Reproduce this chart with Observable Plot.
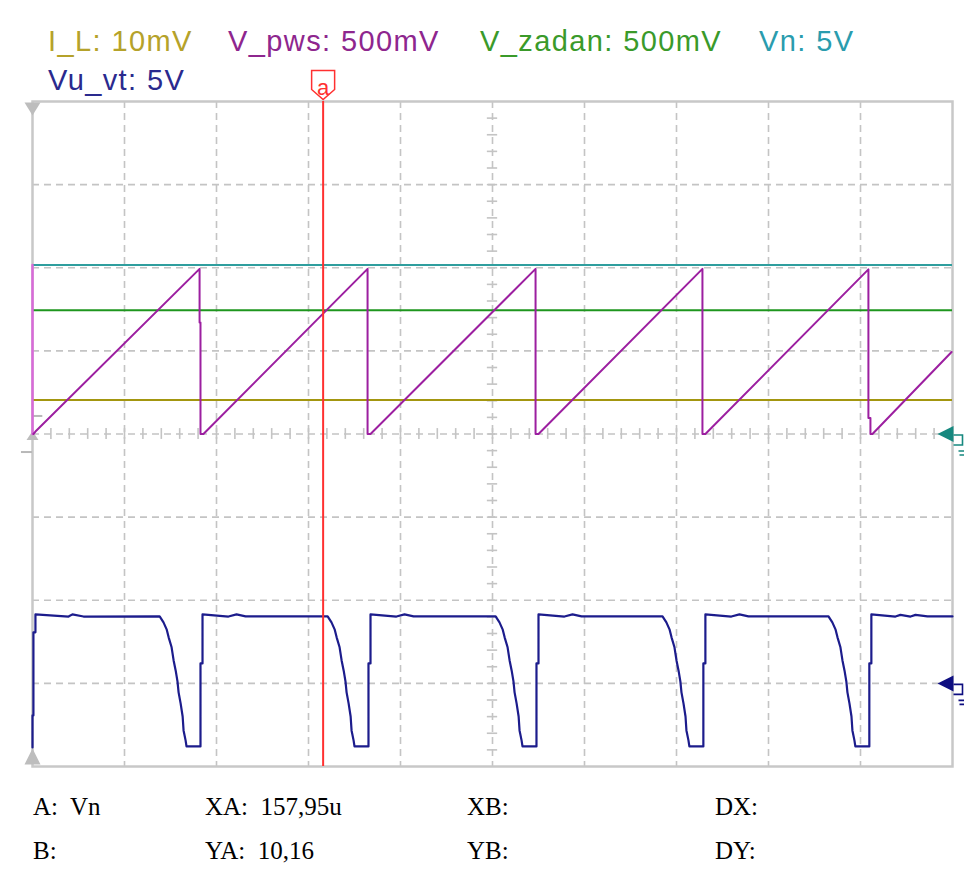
<!DOCTYPE html>
<html><head><meta charset="utf-8">
<script src="https://cdn.jsdelivr.net/npm/d3@7"></script>
<script src="https://cdn.jsdelivr.net/npm/@observablehq/plot@0.6"></script>
<style>
body{margin:0;background:#fff;}
#wrap{position:relative;width:964px;height:872px;overflow:hidden;background:#fff;}
#chart{position:absolute;left:0;top:0;}
.leg{position:absolute;font-family:"Liberation Sans",Arial,sans-serif;font-size:29px;line-height:1;white-space:pre;letter-spacing:1.4px;}
.cur{position:absolute;font-family:"Liberation Serif","Times New Roman",serif;font-size:25px;line-height:1;white-space:pre;color:#000;}
</style></head><body>
<div id="wrap"><div id="chart"></div></div>
<script>
// ---- channels ----
const channelNames = ["I_L", "V_pws", "V_zadan", "Vn", "Vu_vt"];
const channelScaleLabels = ["10mV", "500mV", "500mV", "5V", "5V"];
const channelVoltsPerDiv = [0.01, 0.5, 0.5, 5, 5];
const channelGroundDiv = [0, 0, 0, 0, -3];
const channelColors = ["#a3960f", "#9c1fa0", "#1e961e", "#2f9e9e", "#1c1c8c"];
const legendColors = ["#b5a22a", "#8e268e", "#3a9a2a", "#2a9cae", "#2a2a8e"];

// ---- constant levels (V) ----
const levelIL = 0.0041;
const levelVzadan = 0.745;
const levelVn = 10.16;

// ---- V_pws sawtooth (time in us, volts) ----
const pwsStartTimes = [0, 0];
const pwsStartVolts = [1.017, 0.0];
const pwsTimes = [0.5, 1.6, 90.8, 90.8, 91.3, 91.3, 92.9, 182.1, 182.1, 183.7, 273.4, 273.4, 275.0, 364.1, 364.1, 365.7, 454.3, 454.3, 455.4, 455.4, 456.5, 499.5];
const pwsVolts = [0.0, 0.015, 0.993, 0.67, 0.67, 0.0, 0.0, 0.993, 0.0, 0.0, 0.993, 0.0, 0.0, 0.993, 0.0, 0.0, 0.99, 0.096, 0.096, 0.0, 0.0, 0.493];

// ---- Vu_vt (time in us, volts) ----
const vuTimes = [0, 0, 0.5, 0.5, 1.6, 1.6, 19.6, 21.7, 27.7,
  69.1, 71.2, 72.9, 74.0, 75.6, 76.7, 77.8, 78.8, 79.4, 80.5, 81.6, 82.1, 83.2, 83.7, 91.3, 91.3, 92.4, 92.4, 106.5, 110.9, 115.8,
  160.4, 162.5, 164.2, 165.3, 166.9, 168.0, 169.1, 170.1, 170.7, 171.8, 172.9, 173.4, 174.5, 175.0, 182.6, 182.6, 183.7, 183.7, 197.8, 202.2, 207.1,
  251.7, 253.8, 255.5, 256.6, 258.2, 259.3, 260.4, 261.4, 262.0, 263.1, 264.2, 264.7, 265.8, 266.3, 273.9, 273.9, 275.0, 275.0, 289.1, 293.5, 298.4,
  342.4, 344.5, 346.2, 347.3, 348.9, 350.0, 351.1, 352.1, 352.7, 353.8, 354.9, 355.4, 356.5, 357.0, 364.6, 364.6, 365.7, 365.7, 379.8, 384.2, 389.1,
  432.6, 434.7, 436.4, 437.5, 439.1, 440.2, 441.3, 442.3, 442.9, 444.0, 445.1, 445.6, 446.7, 447.2, 454.8, 454.8, 455.9, 455.9, 469.0, 471.7, 477.2, 479.9, 486.4, 500];
const vuVolts = [-3.85, -1.93, -1.93, 3.07, 3.07, 4.15, 4.02, 4.15, 4.02,
  4.03, 3.67, 3.25, 2.77, 2.17, 1.38, 0.78, 0.12, -0.54, -1.20, -1.99, -2.83, -3.43, -3.79, -3.79, 1.20, 1.20, 4.15, 4.02, 4.15, 4.03,
  4.03, 3.67, 3.25, 2.77, 2.17, 1.38, 0.78, 0.12, -0.54, -1.20, -1.99, -2.83, -3.43, -3.79, -3.79, 1.20, 1.20, 4.15, 4.02, 4.15, 4.03,
  4.03, 3.67, 3.25, 2.77, 2.17, 1.38, 0.78, 0.12, -0.54, -1.20, -1.99, -2.83, -3.43, -3.79, -3.79, 1.20, 1.20, 4.15, 4.02, 4.15, 4.03,
  4.03, 3.67, 3.25, 2.77, 2.17, 1.38, 0.78, 0.12, -0.54, -1.20, -1.99, -2.83, -3.43, -3.79, -3.79, 1.20, 1.20, 4.15, 4.02, 4.15, 4.03,
  4.03, 3.67, 3.25, 2.77, 2.17, 1.38, 0.78, 0.12, -0.54, -1.20, -1.99, -2.83, -3.43, -3.79, -3.79, 1.20, 1.20, 4.15, 4.02, 4.12, 4.02, 4.12, 4.03, 4.03];

// ---- cursor & readouts ----
const cursorTime = 157.95;
const cursorLabel = "a";
const readoutCol1 = ["A:  Vn", "B:"];
const readoutCol2 = ["XA:  157,95u", "YA:  10,16"];
const readoutCol3 = ["XB:", "YB:"];
const readoutCol4 = ["DX:", "DY:"];

// ---- axes (50 us/div, 8 vertical divisions) ----
const xDomain = [0, 500];
const yDomain = [-4, 4];
const xMajor = d3.range(50, 500, 50);
const yMajor = d3.range(-3, 4, 1);
const xMinor = d3.range(10, 500, 10);
const yMinor = d3.range(-19, 20).map(i => i / 5);

const toDiv = (ch, v) => channelGroundDiv[ch] + v / channelVoltsPerDiv[ch];

const pwsStart = pwsStartTimes.map((t, i) => ({t, y: toDiv(1, pwsStartVolts[i])}));
const pws = pwsTimes.map((t, i) => ({t, y: toDiv(1, pwsVolts[i])}));
const vu = vuTimes.map((t, i) => ({t, y: toDiv(4, vuVolts[i])}));

// custom fixed-pixel symbols
const sym = f => ({draw(ctx) { f(ctx); }});
const triDown = sym(c => { c.moveTo(-8, 1); c.lineTo(8, 1); c.lineTo(0, 14); c.closePath(); });
const triUpBottom = sym(c => { c.moveTo(-8, -2); c.lineTo(8, -2); c.lineTo(0, -18); c.closePath(); });
const triUpSmall = sym(c => { c.moveTo(-6, 6); c.lineTo(6, 6); c.lineTo(0, -3); c.closePath(); });
const arrowLeft = sym(c => { c.moveTo(-15, 0); c.lineTo(1, -8); c.lineTo(1, 8); c.closePath(); });
const groundBox = sym(c => { c.moveTo(1, 1); c.lineTo(10, 1); c.lineTo(10, 11); c.lineTo(1, 11); c.moveTo(6, 17); c.lineTo(12, 17); c.moveTo(7, 21); c.lineTo(12, 21); });
const cursorFlag = sym(c => { c.moveTo(-11.5, -31); c.lineTo(11.5, -31); c.lineTo(11.5, -12); c.lineTo(0, -2); c.lineTo(-11.5, -12); c.closePath(); });

const gridStyle = {stroke: "#c4c4c4", strokeWidth: 1.6, strokeDasharray: "7,5"};
const tickStyle = {stroke: "#c4c4c4", strokeWidth: 1.6};

const plot = Plot.plot({
  width: 964, height: 800,
  marginTop: 101, marginBottom: 34, marginLeft: 32, marginRight: 12,
  x: {domain: xDomain, axis: null},
  y: {domain: yDomain, axis: null},
  style: {background: "transparent", overflow: "visible"},
  marks: [
    Plot.ruleX(xMajor, gridStyle),
    Plot.ruleY(yMajor, gridStyle),
    Plot.ruleX(xMinor, {...tickStyle, y1: -0.065, y2: 0.065}),
    Plot.ruleY(yMinor, {...tickStyle, x1: 250 - 2.8, x2: 250 + 2.8}),
    Plot.frame({stroke: "#c8c8c8", strokeWidth: 2.5}),
    Plot.ruleY([0.217], {x1: 0, x2: 5.6, stroke: "#b8b8b8", strokeWidth: 2}),
    Plot.ruleY([-0.217], {x1: -6, x2: 0, stroke: "#b8b8b8", strokeWidth: 2}),
    Plot.dot([xDomain[0]], {x: d => d, y: yDomain[1], symbol: triDown, fill: "#bdbdbd", stroke: "none"}),
    Plot.dot([xDomain[0]], {x: d => d, y: yDomain[0], symbol: triUpBottom, fill: "#bdbdbd", stroke: "none"}),
    Plot.dot([xDomain[0]], {x: d => d, y: channelGroundDiv[1], symbol: triUpSmall, fill: "#bdbdbd", stroke: "none"}),
    Plot.ruleY([toDiv(0, levelIL)], {x1: xDomain[0], x2: xDomain[1], stroke: channelColors[0], strokeWidth: 2}),
    Plot.ruleY([toDiv(2, levelVzadan)], {x1: xDomain[0], x2: xDomain[1], stroke: channelColors[2], strokeWidth: 2}),
    Plot.ruleY([toDiv(3, levelVn)], {x1: xDomain[0], x2: xDomain[1], stroke: channelColors[3], strokeWidth: 2}),
    Plot.line(pwsStart, {x: "t", y: "y", stroke: "#d96ad9", strokeWidth: 2.5}),
    Plot.line(pws, {x: "t", y: "y", stroke: channelColors[1], strokeWidth: 2}),
    Plot.line(vu, {x: "t", y: "y", stroke: channelColors[4], strokeWidth: 2.2}),
    Plot.dot([channelGroundDiv[3]], {x: xDomain[1], y: d => d, symbol: arrowLeft, fill: "#16887f", stroke: "none"}),
    Plot.dot([channelGroundDiv[3]], {x: xDomain[1], y: d => d, symbol: groundBox, fill: "none", stroke: "#16887f", strokeWidth: 1.6}),
    Plot.dot([channelGroundDiv[4]], {x: xDomain[1], y: d => d, symbol: arrowLeft, fill: "#0e0e80", stroke: "none"}),
    Plot.dot([channelGroundDiv[4]], {x: xDomain[1], y: d => d, symbol: groundBox, fill: "none", stroke: "#0e0e80", strokeWidth: 1.6}),
    Plot.ruleX([cursorTime], {y1: yDomain[0], y2: yDomain[1], stroke: "#ff3030", strokeWidth: 2}),
    Plot.dot([cursorTime], {x: d => d, y: yDomain[1], symbol: cursorFlag, fill: "#fff", stroke: "#ff3030", strokeWidth: 1.5}),
    Plot.text([cursorLabel], {x: cursorTime, y: yDomain[1], dy: -14, text: d => d, fill: "#ff3030", fontSize: 22, fontFamily: "Liberation Sans, Arial, sans-serif"})
  ]
});
document.getElementById("chart").appendChild(plot);

// legend
const wrap = document.getElementById("wrap");
const legendPos = [[48, 27], [228, 27], [480, 27], [759, 27], [48, 66]];
channelNames.forEach((n, i) => {
  const s = document.createElement("div");
  s.className = "leg";
  s.style.left = legendPos[i][0] + "px";
  s.style.top = legendPos[i][1] + "px";
  s.style.color = legendColors[i];
  s.textContent = n + ": " + channelScaleLabels[i];
  wrap.appendChild(s);
});
// readouts
const cols = [readoutCol1, readoutCol2, readoutCol3, readoutCol4];
const colX = [33, 205, 467, 715];
const rowY = [794, 838];
cols.forEach((col, ci) => col.forEach((txt, ri) => {
  const d = document.createElement("div");
  d.className = "cur";
  d.style.left = colX[ci] + "px";
  d.style.top = rowY[ri] + "px";
  d.textContent = txt;
  wrap.appendChild(d);
}));
</script>
</body></html>
